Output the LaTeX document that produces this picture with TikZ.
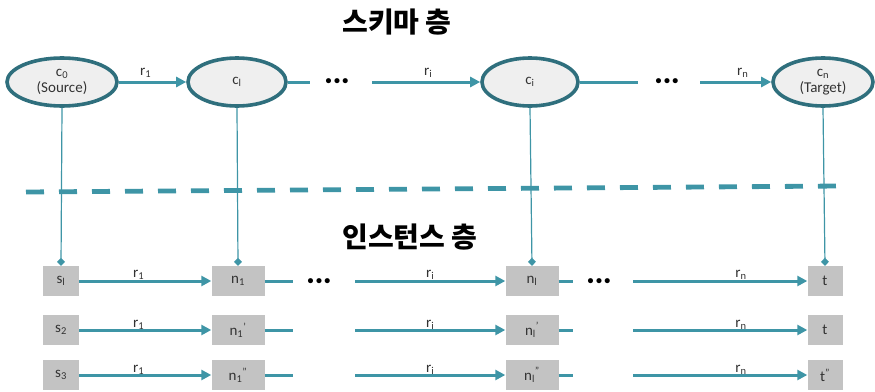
\documentclass[tikz,border=0pt]{standalone}
\usepackage{fontspec}
\setmainfont{Carlito}
\newfontfamily\kr{Noto Sans CJK KR}
\usetikzlibrary{shapes.geometric,arrows.meta}
\definecolor{tealA}{HTML}{3E95A6}
\definecolor{tealB}{HTML}{2F6F7D}
\definecolor{ellfill}{HTML}{EFEFEF}
\definecolor{boxfill}{HTML}{C3C3C3}
\tikzset{
  concept/.style={ellipse,draw=tealB,line width=3.6pt,fill=ellfill,minimum height=48pt,inner sep=0pt,align=center,font=\fontsize{15}{16}\selectfont,text=black!80},
  inst/.style={rectangle,fill=boxfill,minimum height=30pt,inner sep=0pt,font=\fontsize{15}{16}\selectfont,text=black!80},
  rel/.style={draw=tealA,line width=3pt,-{Triangle[length=10pt,width=10pt]}},
  relplain/.style={draw=tealA,line width=3pt},
  link/.style={draw=tealA,line width=1.2pt,-{Diamond[length=8pt,width=8pt]}},
  lab/.style={font=\fontsize{15}{16}\selectfont,text=black!80,inner sep=1pt},
  dotsn/.style={font=\fontsize{12}{12}\selectfont\bfseries,inner sep=0pt},
  title/.style={font=\kr\fontsize{28}{30}\selectfont\bfseries}
}
\newcommand{\bdots}{\textbullet\hspace{2.5pt}\textbullet\hspace{2.5pt}\textbullet}
\begin{document}
\begin{tikzpicture}[x=1pt,y=-1pt]
\useasboundingbox (0,0) rectangle (875,391);
% titles
\node[title] (t1) at (397,22) {스키마 층};
\node[title] (t2) at (410,237) {인스턴스 층};
% schema layer
\node[concept,minimum width=110pt] (c0) at (62,82) {c\textsubscript{0}\\(Source)};
\node[concept,minimum width=98pt] (c1) at (237,82) {c\textsubscript{l}};
\node[concept,minimum width=96pt] (ci) at (530,82) {c\textsubscript{i}};
\node[concept,minimum width=100pt] (cn) at (823,82) {c\textsubscript{n}\\(Target)};
\node[dotsn] (d1) at (337,82) {\bdots};
\node[dotsn] (d2) at (667,82) {\bdots};
\coordinate (a1) at (310,82);
\coordinate (a2) at (372,82);
\coordinate (a3) at (638,82);
\coordinate (a4) at (700,82);
\draw[rel] (c0) -- node[lab,above=2pt,pos=0.4] {r\textsubscript{1}} (c1);
\draw[relplain] (c1) -- (a1);
\draw[rel] (a2) -- node[lab,above=2pt,pos=0.52] {r\textsubscript{i}} (ci);
\draw[relplain] (ci) -- (a3);
\draw[rel] (a4) -- node[lab,above=2pt,pos=0.6] {r\textsubscript{n}} (cn);
% dashed separator
\coordinate (dl) at (26,192);
\coordinate (dr) at (840,186);
\draw[tealA,line width=4.8pt,dash pattern=on 18pt off 15pt] (dl) -- (dr);
% instance layer row 1
\node[inst,minimum width=36pt] (s1) at (61,281) {s\textsubscript{l}};
\node[inst,minimum width=53pt] (n1) at (238,281) {n\textsubscript{1}};
\node[inst,minimum width=53pt] (ni) at (532,281) {n\textsubscript{l}};
\node[inst,minimum width=35pt] (t) at (825,281) {t};
\node[dotsn] (e1) at (319,282) {\bdots};
\node[dotsn] (e2) at (599,282) {\bdots};
\coordinate (b1) at (293,281);
\coordinate (b2) at (355,281);
\coordinate (b3) at (573,281);
\coordinate (b4) at (633,281);
\draw[rel] (s1) -- node[lab,above=-1pt,pos=0.45] {r\textsubscript{1}} (n1);
\draw[relplain] (n1) -- (b1);
\draw[rel] (b2) -- node[lab,above=-1pt,pos=0.5] {r\textsubscript{i}} (ni);
\draw[relplain] (ni) -- (b3);
\draw[rel] (b4) -- node[lab,above=-1pt,pos=0.62] {r\textsubscript{n}} (t);
% row 2
\node[inst,minimum width=36pt] (s2) at (61,330) {s\textsubscript{2}};
\node[inst,minimum width=53pt] (n2) at (238,330) {n\textsubscript{1}\textsuperscript{'}};
\node[inst,minimum width=53pt] (ni2) at (532,330) {n\textsubscript{l}\textsuperscript{'}};
\node[inst,minimum width=35pt] (t2b) at (825,330) {t};
\coordinate (g1) at (293,330);
\coordinate (g2) at (355,330);
\coordinate (g3) at (573,330);
\coordinate (g4) at (633,330);
\draw[rel] (s2) -- node[lab,above=-2pt,pos=0.45] {r\textsubscript{1}} (n2);
\draw[relplain] (n2) -- (g1);
\draw[rel] (g2) -- node[lab,above=-2pt,pos=0.5] {r\textsubscript{i}} (ni2);
\draw[relplain] (ni2) -- (g3);
\draw[rel] (g4) -- node[lab,above=-2pt,pos=0.62] {r\textsubscript{n}} (t2b);
% row 3
\node[inst,minimum width=36pt] (s3) at (61,375) {s\textsubscript{3}};
\node[inst,minimum width=53pt] (n3) at (238,375) {n\textsubscript{1}\textsuperscript{''}};
\node[inst,minimum width=53pt] (ni3) at (532,375) {n\textsubscript{l}\textsuperscript{''}};
\node[inst,minimum width=35pt] (t3) at (825,375) {t\textsuperscript{''}};
\coordinate (h1) at (293,375);
\coordinate (h2) at (355,375);
\coordinate (h3) at (573,375);
\coordinate (h4) at (633,375);
\draw[rel] (s3) -- node[lab,above=-2pt,pos=0.45] {r\textsubscript{1}} (n3);
\draw[relplain] (n3) -- (h1);
\draw[rel] (h2) -- node[lab,above=-2pt,pos=0.5] {r\textsubscript{i}} (ni3);
\draw[relplain] (ni3) -- (h3);
\draw[rel] (h4) -- node[lab,above=-2pt,pos=0.62] {r\textsubscript{n}} (t3);
% vertical links
\draw[link] (c0.south) -- (s1.north);
\draw[link] (c1.south) -- (n1.north);
\draw[link] (ci.south) -- (ni.north);
\draw[link] (cn.south) -- (t.north);
\end{tikzpicture}
\end{document}
